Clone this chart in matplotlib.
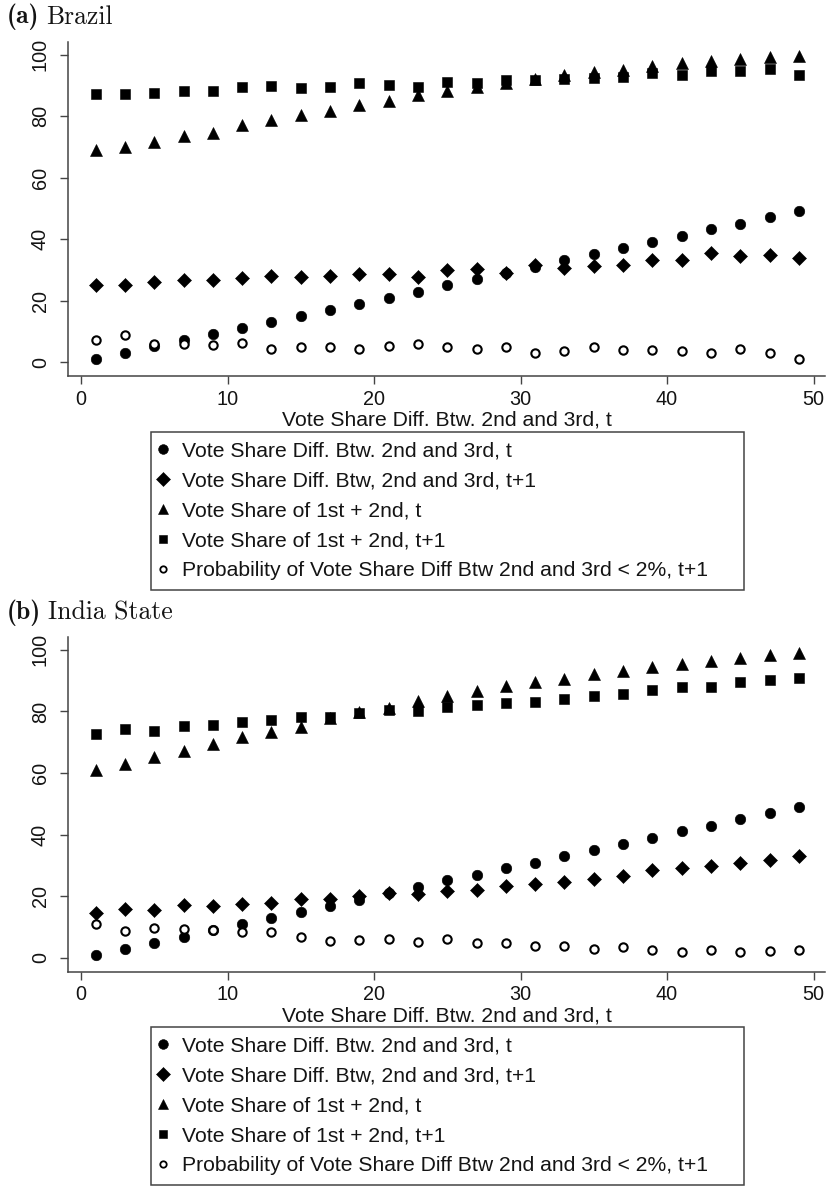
import matplotlib
matplotlib.use("Agg")
import matplotlib.pyplot as plt
from matplotlib.lines import Line2D

plt.rcParams['font.family'] = ['Liberation Sans', 'DejaVu Sans']

# bins of the vote share difference between 2nd and 3rd, t
x_bins = [1, 3, 5, 7, 9, 11, 13, 15, 17, 19, 21, 23, 25,
          27, 29, 31, 33, 35, 37, 39, 41, 43, 45, 47, 49]

# (a) Brazil
br_diff_t = [1.0, 3.0, 5.4, 7.3, 9.2, 11.0, 13.0, 15.0, 17.0, 19.0, 21.0, 23.0, 25.1,
             27.2, 29.0, 31.1, 33.4, 35.3, 37.2, 39.1, 41.2, 43.2, 45.1, 47.2, 49.1]
br_diff_t1 = [25.1, 25.1, 26.1, 26.9, 26.6, 27.4, 28.0, 27.6, 28.2, 28.8, 28.8, 27.8, 29.9,
              30.2, 29.1, 31.5, 30.7, 31.3, 31.5, 33.1, 33.4, 35.6, 34.5, 34.9, 33.9]
br_share_t = [69.0, 70.0, 71.8, 73.5, 74.7, 77.2, 78.8, 80.3, 81.9, 83.6, 85.0, 87.0, 88.3,
              89.6, 91.0, 92.2, 93.3, 94.3, 95.2, 96.3, 97.3, 98.0, 98.8, 99.2, 99.7]
br_share_t1 = [87.3, 87.3, 87.6, 88.2, 88.2, 89.7, 89.9, 89.3, 89.7, 90.8, 90.2, 89.5, 91.3,
               90.8, 91.7, 91.9, 92.1, 92.4, 92.7, 94.2, 93.3, 94.8, 94.8, 95.3, 93.4]
br_prob = [7.2, 8.9, 5.8, 5.8, 5.5, 6.4, 4.2, 5.0, 5.0, 4.2, 5.3, 5.8, 4.8,
           4.4, 5.0, 3.1, 3.7, 5.0, 3.9, 3.9, 3.7, 3.1, 4.2, 3.1, 1.0]

# (b) India State
in_diff_t = [0.8, 2.9, 4.9, 6.7, 8.9, 11.0, 13.0, 14.8, 16.8, 18.8, 21.0, 23.1, 25.1,
             27.0, 29.1, 30.8, 32.9, 35.0, 36.8, 38.9, 41.0, 42.7, 44.9, 46.9, 48.9]
in_diff_t1 = [14.6, 15.9, 15.4, 17.0, 16.8, 17.5, 17.8, 19.1, 18.9, 19.9, 21.0, 20.8, 21.8,
              22.1, 23.2, 23.8, 24.5, 25.6, 26.4, 28.5, 29.2, 29.7, 30.8, 31.6, 33.0]
in_share_t = [61.0, 62.9, 65.1, 67.2, 69.4, 71.6, 73.4, 74.8, 77.8, 79.7, 81.1, 83.5, 85.1,
              86.7, 88.3, 89.6, 90.7, 92.3, 93.2, 94.3, 95.4, 96.4, 97.3, 98.3, 99.1]
in_share_t1 = [72.6, 74.3, 73.7, 75.4, 75.6, 76.6, 77.2, 78.1, 78.3, 79.4, 80.6, 80.2, 81.5,
               82.1, 82.9, 83.2, 84.2, 84.9, 85.6, 87.1, 87.8, 88.0, 89.6, 90.3, 91.0]
in_prob = [10.8, 8.6, 9.6, 9.2, 8.9, 8.3, 8.3, 6.7, 5.4, 5.6, 5.9, 5.1, 5.9,
           4.8, 4.9, 3.8, 3.8, 2.7, 3.5, 2.6, 1.8, 2.4, 1.8, 2.2, 2.6]

labels = ['Vote Share Diff. Btw. 2nd and 3rd, t',
          'Vote Share Diff. Btw, 2nd and 3rd, t+1',
          'Vote Share of 1st + 2nd, t',
          'Vote Share of 1st + 2nd, t+1',
          'Probability of Vote Share Diff Btw 2nd and 3rd < 2%, t+1']
x_ticks = [0, 10, 20, 30, 40, 50]
y_ticks = [0, 20, 40, 60, 80, 100]
x_title = 'Vote Share Diff. Btw. 2nd and 3rd, t'

W, H = 830, 1186
TXT = '#141414'
AX = '#444444'
FS = 15.2      # axis title / legend
FS_TICK = 14.3

# marker style per series: (marker, size, filled)
styles = [('o', 7.6, True), ('D', 7.1, True), ('^', 8.4, True),
          ('s', 7.7, True), ('o', 6.0, False)]
leg_sizes = [7.0, 7.2, 7.8, 6.2, 4.6]

fig = plt.figure(figsize=(W / 100, H / 100), dpi=100)


def panel(top, bottom, series, tag, name, title_y, leg_top):
    ax = fig.add_axes([68 / W, 1 - bottom / H, (825 - 68) / W, (bottom - top) / H])
    # x=0 sits at 81px, 14.65px per unit
    ax.set_xlim(-13 / 14.65, 744 / 14.65)
    ax.set_ylim(-4.5, 104.2)
    for ys, (m, ms, filled) in zip(series, styles):
        if filled:
            ax.plot(x_bins, ys, ls='none', marker=m, ms=ms, color='black', mew=0.4)
        else:
            ax.plot(x_bins, ys, ls='none', marker=m, ms=ms, mfc='white',
                    mec='black', mew=1.5)
    for s in ['top', 'right']:
        ax.spines[s].set_visible(False)
    for s in ['left', 'bottom']:
        ax.spines[s].set_color(AX)
        ax.spines[s].set_linewidth(1.1)
    ax.set_xticks(x_ticks)
    ax.set_yticks(y_ticks)
    ax.tick_params(axis='both', direction='out', length=6, width=1.0, color=AX,
                   labelsize=FS_TICK, labelcolor=TXT)
    ax.tick_params(axis='x', pad=4)
    ax.tick_params(axis='y', pad=7)
    for lab in ax.get_yticklabels():
        lab.set_rotation(90)
        lab.set_va('center')
    ax.set_xlabel(x_title, fontsize=FS, color=TXT)
    ax.xaxis.set_label_coords(0.5005, -(420 - 376) / (bottom - top))
    ax.xaxis.label.set_va('center')

    # panel title: bold tag + roman name
    t1 = fig.text(7 / W, 1 - title_y / H, tag, fontsize=18.5, family='cmb10',
                  ha='left', va='center', color=TXT)
    fig.text(0, 0, '')
    ax.annotate(name, xy=(1, 0.5), xycoords=t1, xytext=(5, 0),
                textcoords='offset points', fontsize=18.5, family='cmr10',
                ha='left', va='center', color=TXT, annotation_clip=False)

    handles = []
    for (m, ms, filled), lms in zip(styles, leg_sizes):
        if filled:
            handles.append(Line2D([], [], ls='none', marker=m, ms=lms, color='black', mew=0.4))
        else:
            handles.append(Line2D([], [], ls='none', marker=m, ms=lms, mfc='white',
                                  mec='black', mew=1.3))
    leg = ax.legend(handles, labels, loc='upper left',
                    bbox_to_anchor=(151 / W, 1 - leg_top / H, (744 - 151) / W, 0),
                    bbox_transform=fig.transFigure, mode='expand', borderaxespad=0,
                    fontsize=FS, frameon=True, fancybox=False, framealpha=1,
                    edgecolor=AX, handlelength=0.25, handletextpad=0.75,
                    labelspacing=0.52, borderpad=0.45, labelcolor=TXT)
    leg.get_frame().set_linewidth(1.1)
    return ax


panel(42, 376, [br_diff_t, br_diff_t1, br_share_t, br_share_t1, br_prob],
      '(a)', 'Brazil', 17, 432)
panel(637, 971.5, [in_diff_t, in_diff_t1, in_share_t, in_share_t1, in_prob],
      '(b)', 'India State', 613, 1027)

fig.savefig('out.png', dpi=100)
